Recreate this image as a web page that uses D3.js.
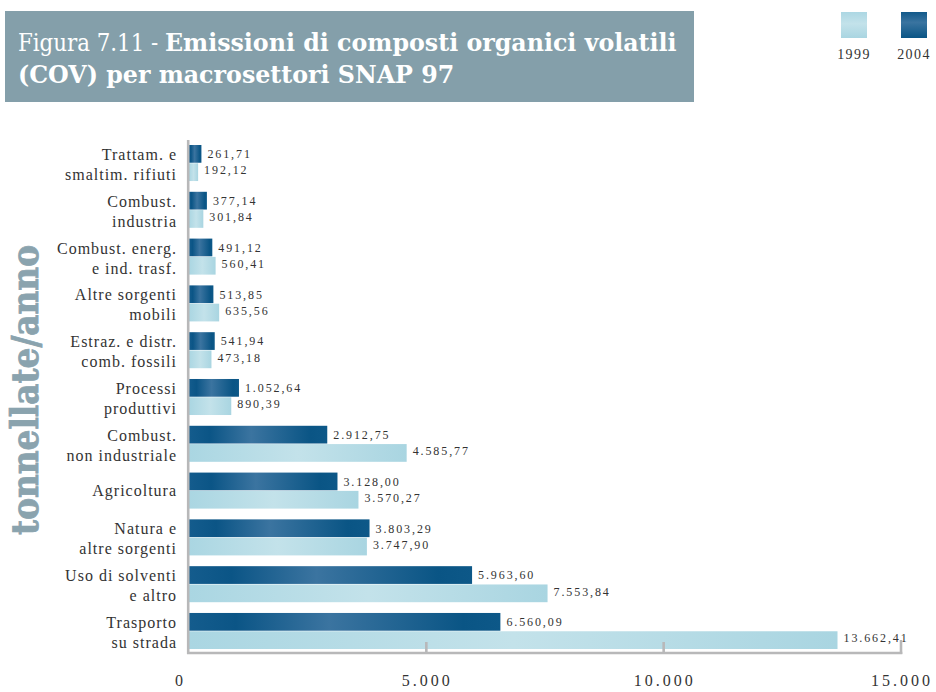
<!DOCTYPE html>
<html>
<head>
<meta charset="utf-8">
<script src="https://cdn.jsdelivr.net/npm/d3@7"></script>
<style>
  html, body { margin: 0; padding: 0; background: #ffffff; }
  svg { display: block; }
</style>
</head>
<body>
<svg id="chart" width="936" height="692"></svg>
<script>
// Macrosettori SNAP 97 (dall'alto in basso)
const categories = [
  "Trattam. e\nsmaltim. rifiuti",
  "Combust.\nindustria",
  "Combust. energ.\ne ind. trasf.",
  "Altre sorgenti\nmobili",
  "Estraz. e distr.\ncomb. fossili",
  "Processi\nproduttivi",
  "Combust.\nnon industriale",
  "Agricoltura",
  "Natura e\naltre sorgenti",
  "Uso di solventi\ne altro",
  "Trasporto\nsu strada"
];

// Emissioni di COV, tonnellate/anno
const values2004 = [261.71, 377.14, 491.12, 513.85, 541.94, 1052.64, 2912.75, 3128.00, 3803.29, 5963.60, 6560.09];
const values1999 = [192.12, 301.84, 560.41, 635.56, 473.18, 890.39, 4585.77, 3570.27, 3747.90, 7553.84, 13662.41];

const seriesKeys = ["2004", "1999"];
const legendKeys = ["1999", "2004"];
const xTicks = [0, 5000, 10000, 15000];

const it = d3.formatLocale({ decimal: ",", thousands: ".", grouping: [3], currency: ["", " €"] });
const fmtValue = it.format(",.2f");
const fmtTick = it.format(",d");

const svg = d3.select("#chart");
const defs = svg.append("defs");

// Gradients for bars (horizontal sheen) and legend swatches (vertical sheen)
function gradient(id, stops, vertical) {
  const g = defs.append("linearGradient").attr("id", id)
    .attr("x1", 0).attr("y1", 0)
    .attr("x2", vertical ? 0 : 1).attr("y2", vertical ? 1 : 0);
  stops.forEach(([o, c]) => g.append("stop").attr("offset", o).attr("stop-color", c));
}
const darkStops = [[0, "#145c8d"], [0.15, "#0b5586"], [0.45, "#3b74a0"], [0.88, "#0a5585"], [1, "#0d5888"]];
const lightStops = [[0, "#aad6e2"], [0.5, "#c3e2ea"], [1, "#a9d5e1"]];
gradient("g2004", darkStops, false);
gradient("g1999", lightStops, false);
gradient("l2004", [[0, "#12598a"], [0.4, "#3a74a0"], [1, "#0a5585"]], true);
gradient("l1999", [[0, "#acd7e3"], [0.45, "#c3e2ea"], [1, "#a9d5e1"]], true);

const fills = { "2004": "url(#g2004)", "1999": "url(#g1999)" };
const legendFills = { "2004": "url(#l2004)", "1999": "url(#l1999)" };

// Title banner
svg.append("rect").attr("x", 5).attr("y", 11).attr("width", 689).attr("height", 91).attr("fill", "#849faa");

const titleFont = "'DejaVu Serif', serif";
function fitText(sel, target) {
  const w = sel.node().getComputedTextLength();
  const fs = parseFloat(sel.attr("font-size"));
  sel.attr("font-size", (fs * target / w).toFixed(2));
}
const t1 = svg.append("text").attr("x", 18).attr("y", 51)
  .attr("font-family", titleFont).attr("font-size", 24).attr("fill", "#ffffff");
t1.append("tspan").attr("font-weight", 300).attr("font-family", "'DejaVu Serif Condensed', 'DejaVu Serif', serif")
  .text("Figura 7.11 - ");
t1.append("tspan").attr("font-weight", "bold").text("Emissioni di composti organici volatili");
fitText(t1, 659);
const t2 = svg.append("text").attr("x", 18).attr("y", 83)
  .attr("font-family", titleFont).attr("font-size", t1.attr("font-size"))
  .attr("font-weight", "bold").attr("fill", "#ffffff")
  .text("(COV) per macrosettori SNAP 97");

// Legend
const legendX = d3.scaleOrdinal().domain(legendKeys).range([841, 901]);
const leg = svg.append("g").selectAll("g").data(legendKeys).join("g")
  .attr("transform", d => `translate(${legendX(d)},12)`);
leg.append("rect").attr("width", 26).attr("height", 26).attr("fill", d => legendFills[d]);
leg.append("text").attr("x", 13).attr("y", 47).attr("text-anchor", "middle")
  .attr("font-family", "'Liberation Serif', serif").attr("font-size", 14)
  .attr("letter-spacing", 1.4).attr("fill", "#333").text(d => d);

// Scales
const x = d3.scaleLinear().domain([0, 15000]).range([189, 901]);
const y = d3.scaleBand().domain(categories).range([145, 649]).paddingInner(0.23).paddingOuter(0);
const ySub = d3.scaleBand().domain(seriesKeys).range([0, y.bandwidth()]).paddingInner(0.03);

const rows = categories.map((c, i) => ({ cat: c, "2004": values2004[i], "1999": values1999[i] }));

// Bars
const plot = svg.append("g");
const group = plot.selectAll("g.grp").data(rows).join("g").attr("class", "grp")
  .attr("transform", d => `translate(0,${y(d.cat)})`);
const bars = group.selectAll("g.bar").data(d => seriesKeys.map(k => ({ key: k, value: d[k] }))).join("g").attr("class", "bar");
bars.append("rect")
  .attr("x", x(0))
  .attr("y", d => ySub(d.key))
  .attr("width", d => x(d.value) - x(0))
  .attr("height", ySub.bandwidth())
  .attr("fill", d => fills[d.key]);
// Value labels; the lower (1999) label sits slightly high in its bar
bars.append("text")
  .attr("x", d => x(d.value) + 6)
  .attr("y", d => ySub(d.key) + ySub.bandwidth() / 2 - (d.key === "1999" ? 2 : 0))
  .attr("dy", "0.36em")
  .attr("font-family", "'Liberation Serif', serif").attr("font-size", 12)
  .attr("letter-spacing", 1.9).attr("fill", "#333")
  .text(d => fmtValue(d.value));

// Category labels
const catLabels = plot.selectAll("text.cat").data(rows).join("text").attr("class", "cat")
  .attr("text-anchor", "end")
  .attr("font-family", "'Liberation Serif', serif").attr("font-size", 16)
  .attr("letter-spacing", 1).attr("fill", "#333");
catLabels.each(function (d) {
  const lines = d.cat.split("\n");
  const mid = y(d.cat) + y.bandwidth() / 2;
  const base = lines.length === 1 ? [mid + 5] : [mid - 3, mid + 17];
  d3.select(this).selectAll("tspan").data(lines).join("tspan")
    .attr("x", 177).attr("y", (l, i) => base[i]).text(l => l);
});

// Axes
const axisColor = "#b8b8b9";
svg.append("line").attr("x1", 188.2).attr("x2", 188.2).attr("y1", 140).attr("y2", 654)
  .attr("stroke", axisColor).attr("stroke-width", 2.6);
svg.append("line").attr("x1", 187).attr("x2", x(15000) + 1.3).attr("y1", 653).attr("y2", 653)
  .attr("stroke", axisColor).attr("stroke-width", 2.6);
svg.append("g").selectAll("line").data(xTicks.filter(v => v > 0)).join("line")
  .attr("x1", d => x(d)).attr("x2", d => x(d))
  .attr("y1", d => d === 15000 ? 640 : 642).attr("y2", 654)
  .attr("stroke", axisColor).attr("stroke-width", 2.6);
svg.append("g").selectAll("text").data(xTicks).join("text")
  .attr("x", d => d === 0 ? x(0) - 3 : x(d) + 1)
  .attr("y", 686)
  .attr("text-anchor", d => d === 0 ? "end" : "middle")
  .attr("font-family", "'Liberation Serif', serif").attr("font-size", 16)
  .attr("letter-spacing", 3).attr("fill", "#333")
  .text(d => fmtTick(d));

// Y-axis title
const yTitle = svg.append("text")
  .attr("transform", "translate(38,390) rotate(-90)")
  .attr("text-anchor", "middle")
  .attr("font-family", "'DejaVu Serif Condensed', 'DejaVu Serif', serif").attr("font-weight", "bold")
  .attr("font-size", 30).attr("fill", "#8aa3ae")
  .attr("stroke", "#8aa3ae").attr("stroke-width", 0.8)
  .text("tonnellate/anno");
fitText(yTitle, 290);
</script>
</body>
</html>
